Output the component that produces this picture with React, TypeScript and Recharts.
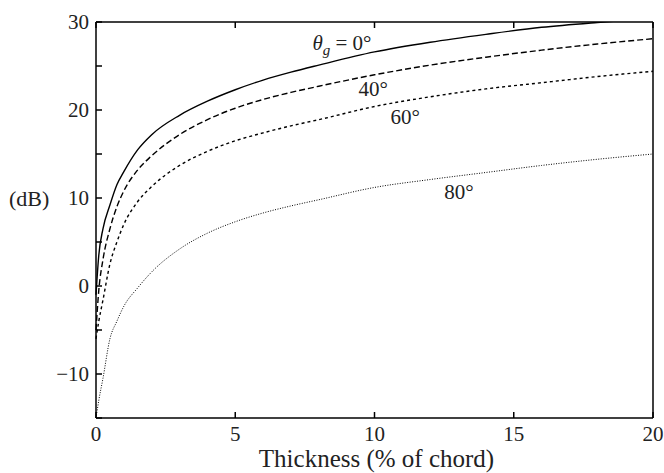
import { LineChart, Line, XAxis, YAxis, ReferenceDot, Label } from 'recharts';

// thickness (% of chord)
const thickness = [0, 0.1, 0.25, 0.5, 0.75, 1, 1.5, 2, 3, 4, 5, 6, 7, 8, 10, 12, 14, 16, 18, 20];
// dB, one per grazing angle
const theta0 = [-1, 3.5, 6.5, 9.2, 11.5, 13, 15.5, 17.2, 19.4, 21, 22.3, 23.4, 24.3, 25.1, 26.6, 27.7, 28.6, 29.4, 29.95, 30.4];
const theta40 = [-5, -0.5, 3, 6.5, 9, 10.8, 13.2, 14.8, 17.2, 18.9, 20.2, 21.2, 22, 22.7, 24, 25.1, 26, 26.8, 27.5, 28.1];
const theta60 = [-6, -4, -1.6, 2.5, 5, 7, 9.6, 11.3, 13.7, 15.3, 16.5, 17.4, 18.2, 18.9, 20.4, 21.5, 22.4, 23.1, 23.8, 24.4];
const theta80 = [-15, -13, -10.5, -6, -4, -2.3, -0.2, 1.6, 4.2, 6, 7.3, 8.3, 9.1, 9.8, 11.2, 12.1, 12.9, 13.7, 14.4, 15];

const xTicks = [0, 5, 10, 15, 20];
const yTicks = [-15, -10, -5, 0, 5, 10, 15, 20, 25, 30];
const yLabels = [-10, 0, 10, 20, 30];

const FONT = 'Liberation Serif';
const TICK_LEN = 6;

const data = thickness.map((t, i) => ({
  t,
  a0: theta0[i],
  a40: theta40[i],
  a60: theta60[i],
  a80: theta80[i],
}));

const fmt = (v: number) => (v < 0 ? `\u2212${Math.abs(v)}` : `${v}`);
const txt = { fontFamily: FONT };

function BottomTick({ x, y, payload }: any) {
  return (
    <g>
      <line x1={x} y1={y} x2={x} y2={y - TICK_LEN} stroke="#000" strokeWidth={1.5} />
      <text x={x} y={y + 8} dy="0.71em" textAnchor="middle" style={txt} fontSize={21} fill="#222">
        {payload.value}
      </text>
    </g>
  );
}

function TopTick({ x, y }: any) {
  return <line x1={x} y1={y} x2={x} y2={y + TICK_LEN} stroke="#000" strokeWidth={1.5} />;
}

function LeftTick({ x, y, payload }: any) {
  return (
    <g>
      <line x1={x} y1={y} x2={x + TICK_LEN} y2={y} stroke="#000" strokeWidth={1.5} />
      {yLabels.includes(payload.value) && (
        <text x={x - 7} y={y} dy="0.355em" textAnchor="end" style={txt} fontSize={21} fill="#222">
          {fmt(payload.value)}
        </text>
      )}
    </g>
  );
}

function RightTick({ x, y }: any) {
  return <line x1={x} y1={y} x2={x - TICK_LEN} y2={y} stroke="#000" strokeWidth={1.5} />;
}

function ThetaLabel({ viewBox }: any) {
  const { x, y } = viewBox;
  return (
    <text x={x} y={y} dy="0.355em" textAnchor="middle" style={txt} fontSize={21} fill="#222">
      <tspan fontStyle="italic">θ</tspan>
      <tspan fontStyle="italic" fontSize={15} dy={5}>g</tspan>
      <tspan dy={-5}> = 0°</tspan>
    </text>
  );
}

function CurveLabel({ viewBox, value, size = 21 }: any) {
  const { x, y } = viewBox;
  return (
    <text x={x} y={y} dy="0.355em" textAnchor="middle" style={txt} fontSize={size} fill="#222">
      {value}
    </text>
  );
}

export default function App() {
  return (
    <div style={{ position: 'absolute', left: 0, top: 0, background: '#fff', fontFamily: FONT }}>
      <LineChart
        width={664}
        height={473}
        data={data}
        margin={{ top: 21, right: 10, left: 0, bottom: 0 }}
      >
        <XAxis
          dataKey="t"
          type="number"
          domain={[0, 20]}
          ticks={xTicks}
          interval={0}
          height={55}
          tickLine={false}
          tickSize={0}
          tickMargin={0}
          axisLine={{ stroke: '#000', strokeWidth: 1.5 }}
          tick={<BottomTick />}
        >
          <Label
            position="insideBottom"
            content={({ viewBox }: any) => (
              <text
                x={viewBox.x + viewBox.width / 2 + 2}
                y={viewBox.y + viewBox.height - 6}
                textAnchor="middle"
                style={txt}
                fontSize={25}
                fill="#222"
              >
                Thickness (% of chord)
              </text>
            )}
          />
        </XAxis>
        <XAxis
          xAxisId="top"
          orientation="top"
          dataKey="t"
          type="number"
          domain={[0, 20]}
          ticks={xTicks}
          interval={0}
          height={1}
          tickLine={false}
          tickSize={0}
          tickMargin={0}
          axisLine={{ stroke: '#000', strokeWidth: 1.5 }}
          tick={<TopTick />}
        />
        <YAxis
          type="number"
          domain={[-15, 30]}
          ticks={yTicks}
          interval={0}
          allowDataOverflow
          width={96}
          tickLine={false}
          tickSize={0}
          tickMargin={0}
          axisLine={{ stroke: '#000', strokeWidth: 1.5 }}
          tick={<LeftTick />}
        />
        <YAxis
          yAxisId="right"
          orientation="right"
          type="number"
          domain={[-15, 30]}
          ticks={yTicks}
          interval={0}
          width={1}
          tickLine={false}
          tickSize={0}
          tickMargin={0}
          axisLine={{ stroke: '#000', strokeWidth: 1.5 }}
          tick={<RightTick />}
        />
        <Line type="monotone" dataKey="a0" stroke="#000" strokeWidth={1.4} dot={false} isAnimationActive={false} />
        <Line type="monotone" dataKey="a40" stroke="#000" strokeWidth={1.4} strokeDasharray="6 3" dot={false} isAnimationActive={false} />
        <Line type="monotone" dataKey="a60" stroke="#000" strokeWidth={1.4} strokeDasharray="3 3" dot={false} isAnimationActive={false} />
        <Line type="monotone" dataKey="a80" stroke="#000" strokeWidth={1} strokeDasharray="1 1.5" dot={false} isAnimationActive={false} />
        <ReferenceDot x={-2.4} y={10} r={0} ifOverflow="visible" label={<CurveLabel value="(dB)" size={22} />} />
        <ReferenceDot x={8.83} y={27.7} r={0} ifOverflow="visible" label={<ThetaLabel />} />
        <ReferenceDot x={9.95} y={22.4} r={0} ifOverflow="visible" label={<CurveLabel value="40°" />} />
        <ReferenceDot x={11.1} y={19.2} r={0} ifOverflow="visible" label={<CurveLabel value="60°" />} />
        <ReferenceDot x={13.03} y={10.7} r={0} ifOverflow="visible" label={<CurveLabel value="80°" />} />
      </LineChart>
    </div>
  );
}
